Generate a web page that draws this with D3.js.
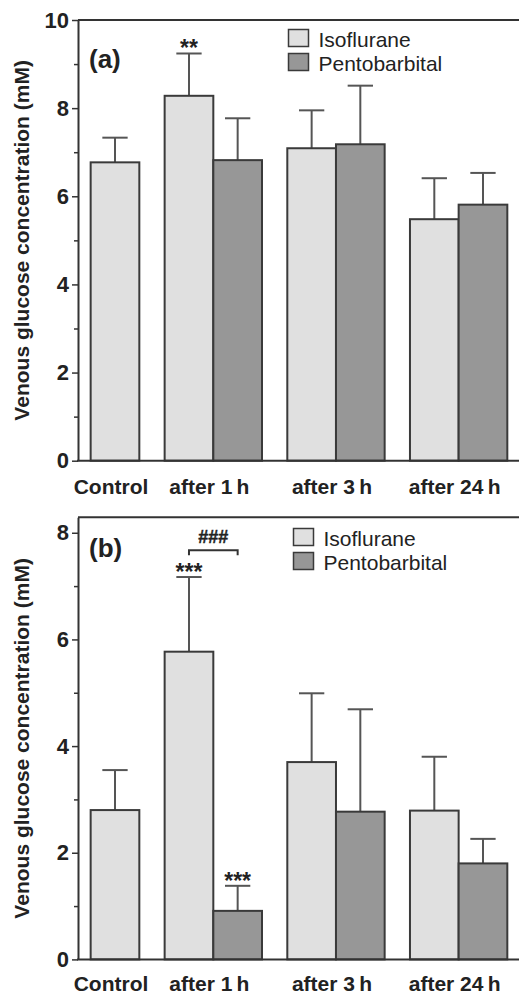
<!DOCTYPE html>
<html>
<head>
<meta charset="utf-8">
<script src="https://cdn.jsdelivr.net/npm/d3@7"></script>
<style>
  html, body { margin: 0; padding: 0; background: #fff; }
  svg { display: block; font-family: "Liberation Sans", Arial, Helvetica, sans-serif; }
</style>
</head>
<body>
<div id="chart"></div>
<script>
const groups = ["Control", "after 1\u2009h", "after 3\u2009h", "after 24\u2009h"];
const series = ["Isoflurane", "Pentobarbital"];

// panel (a)
const isoMeanA = [6.77, 8.28, 7.09, 5.48];
const isoSdA = [0.56, 0.96, 0.86, 0.93];
const pentoMeanA = [null, 6.82, 7.18, 5.81];
const pentoSdA = [null, 0.95, 1.33, 0.72];

// panel (b)
const isoMeanB = [2.80, 5.77, 3.70, 2.79];
const isoSdB = [0.75, 1.40, 1.29, 1.01];
const pentoMeanB = [null, 0.91, 2.77, 1.80];
const pentoSdB = [null, 0.47, 1.92, 0.46];

const width = 519;
const height = 994;
const colors = { Isoflurane: "#e0e0e0", Pentobarbital: "#979797" };
const barStroke = "#3a3a3a";

const svg = d3.select("#chart")
  .append("svg")
  .attr("width", width)
  .attr("height", height);

// x layout in "bar widths": left pad, gap between groups
const leftPad = 0.26, groupGap = 0.52;
const groupSizes = groups.map((g, i) => (pentoMeanA[i] == null ? 1 : 2));
const groupStart = [];
let acc = leftPad;
groupSizes.forEach((n, i) => { groupStart.push(acc); acc += n + groupGap; });

const x = d3.scaleLinear().domain([0, 9.06]).range([78, 519]);
const bw = x(1) - x(0);

function drawPanel(cfg) {
  const g = svg.append("g");
  const y = d3.scaleLinear().domain([0, cfg.yMax]).range([cfg.y0, cfg.yTop]);

  const bars = [];
  groups.forEach((grp, i) => {
    bars.push({ series: "Isoflurane", i, mean: cfg.iso[i], sd: cfg.isoSd[i], x0: groupStart[i] });
    if (cfg.pento[i] != null) {
      bars.push({ series: "Pentobarbital", i, mean: cfg.pento[i], sd: cfg.pentoSd[i], x0: groupStart[i] + 1 });
    }
  });

  // error bars (upper only)
  bars.forEach(d => {
    const cx = x(d.x0 + 0.5);
    g.append("line")
      .attr("x1", cx).attr("x2", cx)
      .attr("y1", y(d.mean)).attr("y2", y(d.mean + d.sd))
      .attr("stroke", "#555").attr("stroke-width", 2);
    g.append("line")
      .attr("x1", cx - bw * 0.26).attr("x2", cx + bw * 0.26)
      .attr("y1", y(d.mean + d.sd)).attr("y2", y(d.mean + d.sd))
      .attr("stroke", "#555").attr("stroke-width", 2);
  });

  g.selectAll(".bar")
    .data(bars)
    .enter()
    .append("rect")
    .attr("class", "bar")
    .attr("x", d => x(d.x0))
    .attr("width", bw)
    .attr("y", d => y(d.mean))
    .attr("height", d => y(0) - y(d.mean))
    .attr("fill", d => colors[d.series])
    .attr("stroke", barStroke)
    .attr("stroke-width", 2);

  // y axis: major + minor ticks
  const major = d3.range(0, cfg.yMax + 0.001, 2);
  const minor = d3.range(1, cfg.yMax, 2);
  const yAxis = g.append("g")
    .attr("transform", `translate(${x(0)},0)`)
    .call(d3.axisLeft(y).tickValues(major).tickSize(6).tickSizeOuter(0).tickPadding(3).tickFormat(d3.format("d")));
  yAxis.select(".domain").attr("stroke", "#333").attr("stroke-width", 2);
  yAxis.selectAll(".tick line").attr("stroke", "#333").attr("stroke-width", 1.5);
  yAxis.selectAll(".tick text")
    .attr("fill", "#222")
    .style("font-size", "22px")
    .style("font-weight", "bold")
    .style("font-family", "'Liberation Sans', Arial, sans-serif");

  const yMinor = g.append("g")
    .attr("transform", `translate(${x(0)},0)`)
    .call(d3.axisLeft(y).tickValues(minor).tickSize(4).tickFormat(""));
  yMinor.select(".domain").remove();
  yMinor.selectAll(".tick line").attr("stroke", "#333").attr("stroke-width", 1.5);

  // top frame and x axis line
  g.append("line")
    .attr("x1", x(0)).attr("x2", width)
    .attr("y1", y(cfg.yMax)).attr("y2", y(cfg.yMax))
    .attr("stroke", "#333").attr("stroke-width", 2);
  g.append("line")
    .attr("x1", x(0) - 1).attr("x2", width)
    .attr("y1", y(0)).attr("y2", y(0))
    .attr("stroke", "#333").attr("stroke-width", 2);

  // category labels
  groups.forEach((grp, i) => {
    g.append("text")
      .attr("x", x(groupStart[i] + groupSizes[i] / 2) - 4)
      .attr("y", cfg.labelY)
      .attr("text-anchor", "middle")
      .attr("fill", "#222")
      .style("font-size", "21px")
      .style("font-weight", "bold")
      .text(grp);
  });

  // y axis title
  g.append("text")
    .attr("transform", `translate(29,${(cfg.y0 + cfg.yTop) / 2}) rotate(-90)`)
    .attr("text-anchor", "middle")
    .attr("fill", "#222")
    .style("font-size", "21px")
    .style("font-weight", "bold")
    .text("Venous glucose concentration (mM)");

  // panel letter
  g.append("text")
    .attr("x", 89)
    .attr("y", cfg.letterY)
    .attr("fill", "#222")
    .style("font-size", "26px")
    .style("font-weight", "bold")
    .text(cfg.letter);

  // legend
  series.forEach((s, k) => {
    const ly = cfg.legendY + k * 24;
    g.append("rect")
      .attr("x", cfg.legendX).attr("y", ly)
      .attr("width", 20).attr("height", 17)
      .attr("fill", colors[s])
      .attr("stroke", barStroke).attr("stroke-width", 1.5);
    g.append("text")
      .attr("x", cfg.legendX + 30)
      .attr("y", ly + 17)
      .attr("fill", "#222")
      .style("font-size", "21px")
      .text(s);
  });

  // significance marks
  cfg.stars.forEach(st => {
    const d = bars.find(b => b.i === st.i && b.series === st.series);
    g.append("text")
      .attr("x", x(d.x0 + 0.5))
      .attr("y", y(d.mean + d.sd) + 3)
      .attr("text-anchor", "middle")
      .attr("fill", "#222")
      .style("font-size", "23px")
      .style("font-weight", "bold")
      .text(st.text);
  });

  cfg.brackets.forEach(br => {
    const xa = x(groupStart[br.i] + 0.5);
    const xb = x(groupStart[br.i] + 1.5);
    const yb = y(br.level);
    g.append("path")
      .attr("d", `M${xa},${yb + 5}V${yb}H${xb}V${yb + 5}`)
      .attr("fill", "none")
      .attr("stroke", "#333")
      .attr("stroke-width", 2);
    g.append("text")
      .attr("x", (xa + xb) / 2)
      .attr("y", yb - 7)
      .attr("text-anchor", "middle")
      .attr("fill", "#222")
      .attr("stroke", "#222")
      .attr("stroke-width", 0.4)
      .style("font-size", "18px")
      .style("font-weight", "bold")
      .text(br.text);
  });
}

drawPanel({
  yMax: 10, y0: 460.7, yTop: 20,
  iso: isoMeanA, isoSd: isoSdA, pento: pentoMeanA, pentoSd: pentoSdA,
  labelY: 494, letter: "(a)", letterY: 68,
  legendX: 288.5, legendY: 29.5,
  stars: [{ i: 1, series: "Isoflurane", text: "**" }],
  brackets: []
});

drawPanel({
  yMax: 8.29, y0: 959.4, yTop: 517.3,
  iso: isoMeanB, isoSd: isoSdB, pento: pentoMeanB, pentoSd: pentoSdB,
  labelY: 990.5, letter: "(b)", letterY: 557,
  legendX: 293.5, legendY: 528.5,
  stars: [
    { i: 1, series: "Isoflurane", text: "***" },
    { i: 1, series: "Pentobarbital", text: "***" }
  ],
  brackets: [{ i: 1, level: 7.67, text: "###" }]
});
</script>
</body>
</html>
